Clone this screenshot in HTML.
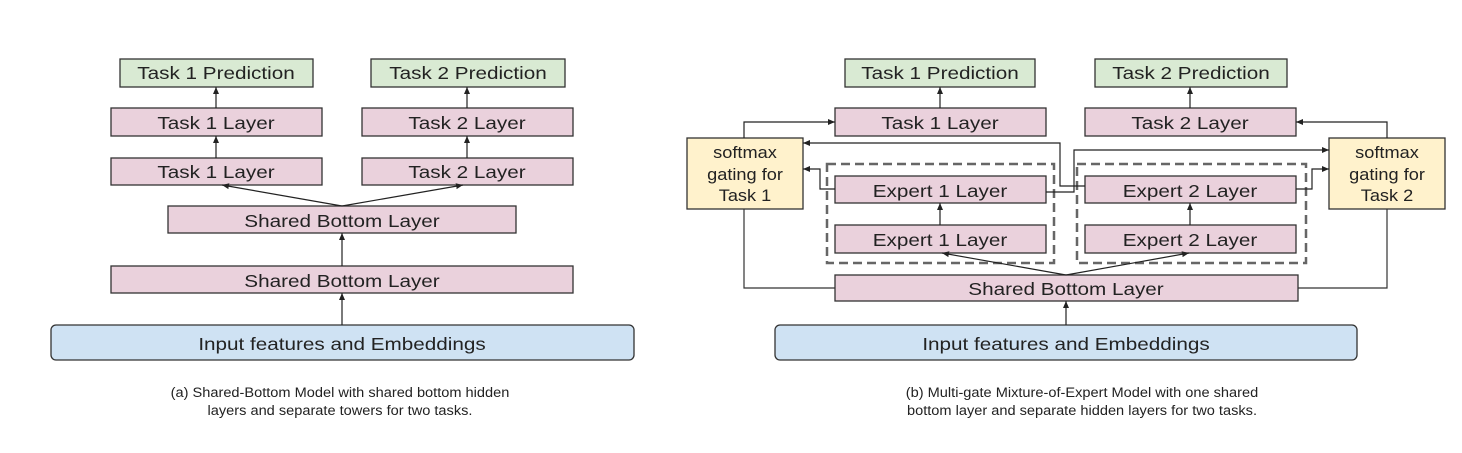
<!DOCTYPE html>
<html><head><meta charset="utf-8"><style>
html,body{margin:0;padding:0;background:#fff}
svg text{font-family:"Liberation Sans",Arial,sans-serif;fill:#222}
</style></head><body>
<svg width="1462" height="448" viewBox="0 0 1462 448" xmlns="http://www.w3.org/2000/svg">
<defs><marker id="a" markerWidth="8" markerHeight="8" refX="7" refY="4" orient="auto" markerUnits="userSpaceOnUse"><path d="M0,1 L7,4 L0,7 z" fill="#222"/></marker></defs>
<g stroke="#333" stroke-width="1.3">
<rect x="120" y="59" width="193" height="28" fill="#d9ead3"/>
<rect x="371" y="59" width="194" height="28" fill="#d9ead3"/>
<rect x="111" y="108" width="211" height="28" fill="#ead1dc"/>
<rect x="362" y="108" width="211" height="28" fill="#ead1dc"/>
<rect x="111" y="158" width="211" height="27" fill="#ead1dc"/>
<rect x="362" y="158" width="211" height="27" fill="#ead1dc"/>
<rect x="168" y="206" width="348" height="27" fill="#ead1dc"/>
<rect x="111" y="266" width="462" height="27" fill="#ead1dc"/>
<rect x="51" y="325" width="583" height="35" rx="5" fill="#cfe2f3"/>
<rect x="845" y="59" width="190" height="28" fill="#d9ead3"/>
<rect x="1095" y="59" width="192" height="28" fill="#d9ead3"/>
<rect x="835" y="108" width="211" height="28" fill="#ead1dc"/>
<rect x="1085" y="108" width="211" height="28" fill="#ead1dc"/>
<rect x="687" y="138" width="116" height="71" fill="#fff2cc"/>
<rect x="1329" y="138" width="116" height="71" fill="#fff2cc"/>
<rect x="827" y="164" width="227" height="99" fill="none" stroke="#666" stroke-width="2.5" stroke-dasharray="9,5"/>
<rect x="1077" y="164" width="229" height="99" fill="none" stroke="#666" stroke-width="2.5" stroke-dasharray="9,5"/>
<rect x="835" y="176" width="211" height="27" fill="#ead1dc"/>
<rect x="835" y="225" width="211" height="28" fill="#ead1dc"/>
<rect x="1085" y="176" width="211" height="27" fill="#ead1dc"/>
<rect x="1085" y="225" width="211" height="28" fill="#ead1dc"/>
<rect x="835" y="275" width="463" height="26" fill="#ead1dc"/>
<rect x="775" y="325" width="582" height="35" rx="5" fill="#cfe2f3"/>
</g>
<g stroke="#222" stroke-width="1.2" fill="none" marker-end="url(#a)">
<line x1="216" y1="108" x2="216" y2="87"/>
<line x1="467" y1="108" x2="467" y2="87"/>
<line x1="216" y1="158" x2="216" y2="136"/>
<line x1="467" y1="158" x2="467" y2="136"/>
<line x1="342" y1="206" x2="222" y2="185"/>
<line x1="342" y1="206" x2="463" y2="185"/>
<line x1="342" y1="266" x2="342" y2="233"/>
<line x1="342" y1="325" x2="342" y2="293"/>
<line x1="940" y1="108" x2="940" y2="87"/>
<line x1="1190" y1="108" x2="1190" y2="87"/>
<line x1="940" y1="225" x2="940" y2="203"/>
<line x1="1190" y1="225" x2="1190" y2="203"/>
<line x1="1066" y1="275" x2="942" y2="253"/>
<line x1="1066" y1="275" x2="1189" y2="253"/>
<line x1="1066" y1="325" x2="1066" y2="301"/>
<polyline points="744,138 744,122 835,122"/>
<polyline points="1387,138 1387,122 1296,122"/>
<polyline points="835,189 820,189 820,169 803,169"/>
<polyline points="1296,189 1312,189 1312,169 1329,169"/>
<polyline points="1085,186 1060,186 1060,143 803,143"/>
<polyline points="1046,192 1074,192 1074,150 1329,150"/>
</g>
<g stroke="#333" stroke-width="1.2" fill="none">
<polyline points="744,209 744,288 835,288"/>
<polyline points="1387,209 1387,288 1298,288"/>
</g>
<g font-size="18" text-anchor="middle">
<text transform="translate(216,79) scale(1.15,1)">Task 1 Prediction</text>
<text transform="translate(468,79) scale(1.15,1)">Task 2 Prediction</text>
<text transform="translate(216,129) scale(1.15,1)">Task 1 Layer</text>
<text transform="translate(467,129) scale(1.15,1)">Task 2 Layer</text>
<text transform="translate(216,178) scale(1.15,1)">Task 1 Layer</text>
<text transform="translate(467,178) scale(1.15,1)">Task 2 Layer</text>
<text transform="translate(342,227) scale(1.15,1)">Shared Bottom Layer</text>
<text transform="translate(342,287) scale(1.15,1)">Shared Bottom Layer</text>
<text transform="translate(342,350) scale(1.15,1)">Input features and Embeddings</text>
<text transform="translate(940,79) scale(1.15,1)">Task 1 Prediction</text>
<text transform="translate(1191,79) scale(1.15,1)">Task 2 Prediction</text>
<text transform="translate(940,129) scale(1.15,1)">Task 1 Layer</text>
<text transform="translate(1190,129) scale(1.15,1)">Task 2 Layer</text>
<text transform="translate(940,197) scale(1.15,1)">Expert 1 Layer</text>
<text transform="translate(1190,197) scale(1.15,1)">Expert 2 Layer</text>
<text transform="translate(940,246) scale(1.15,1)">Expert 1 Layer</text>
<text transform="translate(1190,246) scale(1.15,1)">Expert 2 Layer</text>
<text transform="translate(1066,295) scale(1.15,1)">Shared Bottom Layer</text>
<text transform="translate(1066,350) scale(1.15,1)">Input features and Embeddings</text>
</g>
<g font-size="17" text-anchor="middle">
<text transform="translate(745,158) scale(1.07,1)">softmax</text>
<text transform="translate(745,180) scale(1.07,1)">gating for</text>
<text transform="translate(745,201) scale(1.07,1)">Task 1</text>
<text transform="translate(1387,158) scale(1.07,1)">softmax</text>
<text transform="translate(1387,180) scale(1.07,1)">gating for</text>
<text transform="translate(1387,201) scale(1.07,1)">Task 2</text>
</g>
<g font-size="13.5" text-anchor="middle">
<text transform="translate(340,397) scale(1.08,1)">(a) Shared-Bottom Model with shared bottom hidden</text>
<text transform="translate(340,415) scale(1.08,1)">layers and separate towers for two tasks.</text>
<text transform="translate(1082,397) scale(1.08,1)">(b) Multi-gate Mixture-of-Expert Model with one shared</text>
<text transform="translate(1082,415) scale(1.08,1)">bottom layer and separate hidden layers for two tasks.</text>
</g>
</svg>
</body></html>
